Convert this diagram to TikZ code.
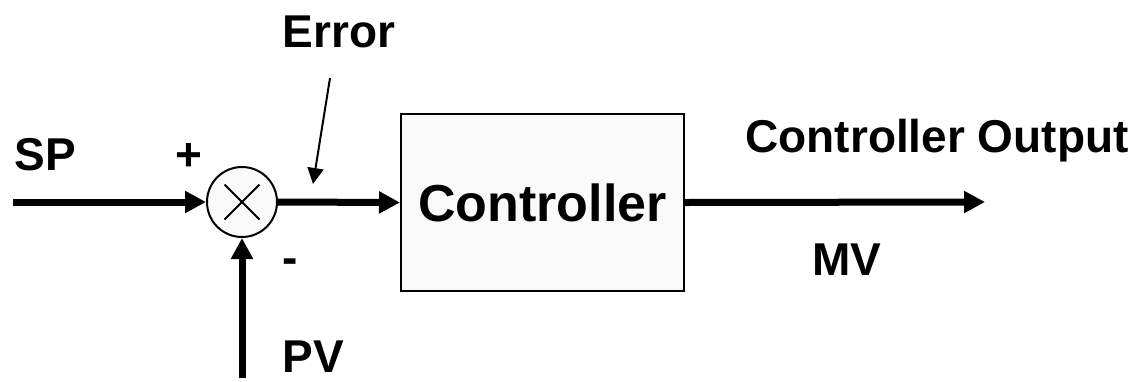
\documentclass[tikz,border=0pt]{standalone}
\usepackage{fontspec}
\setmainfont{Liberation Sans}
\usepackage{tikz}
\usetikzlibrary{positioning, arrows.meta}
\tikzstyle{pixelGrid} = [x = 1pt, y = -1pt]
\definecolor{blockFill}{RGB}{250,250,250}
\tikzstyle{signalLine} = [line width = 7pt, -{Triangle[length = 21pt, width = 21pt]}]
\tikzstyle{pointerLine} = [line width = 2pt, -{Triangle[length = 16pt, width = 16pt]}]
\tikzstyle{blockStyle} = [draw, fill=blockFill, line width = 2pt, minimum width = 283pt, minimum height = 177pt, inner sep = 0pt, font=\fontsize{52}{60}\selectfont\bfseries]
\tikzstyle{sumStyle} = [draw, circle, fill=blockFill, line width = 2pt, minimum size = 70pt, inner sep = 0pt]
\tikzstyle{labelText} = [inner sep = 0pt, font=\fontsize{46}{54}\selectfont\bfseries]
\newcommand{\baseLabel}[3]{\node [labelText, anchor = base] (#1) at (#2) {#3};}

\begin{document}
\begin{tikzpicture}[pixelGrid]
            \useasboundingbox (0,0) rectangle (1139,381);
            \node [sumStyle] (sumJunction) at (242,202) {};
            \draw [line width = 2pt] (sumJunction.center) +(-17.5,-17.5) -- +(17.5,17.5);
            \draw [line width = 2pt] (sumJunction.center) +(-17.5,17.5) -- +(17.5,-17.5);
            \node [blockStyle] (controllerBlock) at (542.5,202.5) {Controller};

            \coordinate (spStart) at (13,202);
            \coordinate (pvStart) at (242,378);
            \coordinate (outputEnd) at (985,202);
            \coordinate (errorTail) at (330,78);
            \coordinate (errorTip) at (313,184);

            \draw [signalLine] (spStart) -- (sumJunction.west);
            \draw [signalLine] (pvStart) -- (sumJunction.south);
            \draw [signalLine] (sumJunction.east) -- (controllerBlock.west);
            \draw [signalLine] (controllerBlock.east) -- (outputEnd);
            \draw [pointerLine] (errorTail) -- (errorTip);

            \baseLabel{spLabel}{45,170}{SP}
            \baseLabel{pvLabel}{313,372}{PV}
            \baseLabel{errorLabel}{339,47}{Error}
            \baseLabel{outputLabel}{937,152}{Controller Output}
            \baseLabel{mvLabel}{847,275}{MV}
            \node [labelText] (plusSign) at (189,157) {+};
            \node [labelText] (minusSign) at (290,266) {-};
          \end{tikzpicture}
\end{document}
